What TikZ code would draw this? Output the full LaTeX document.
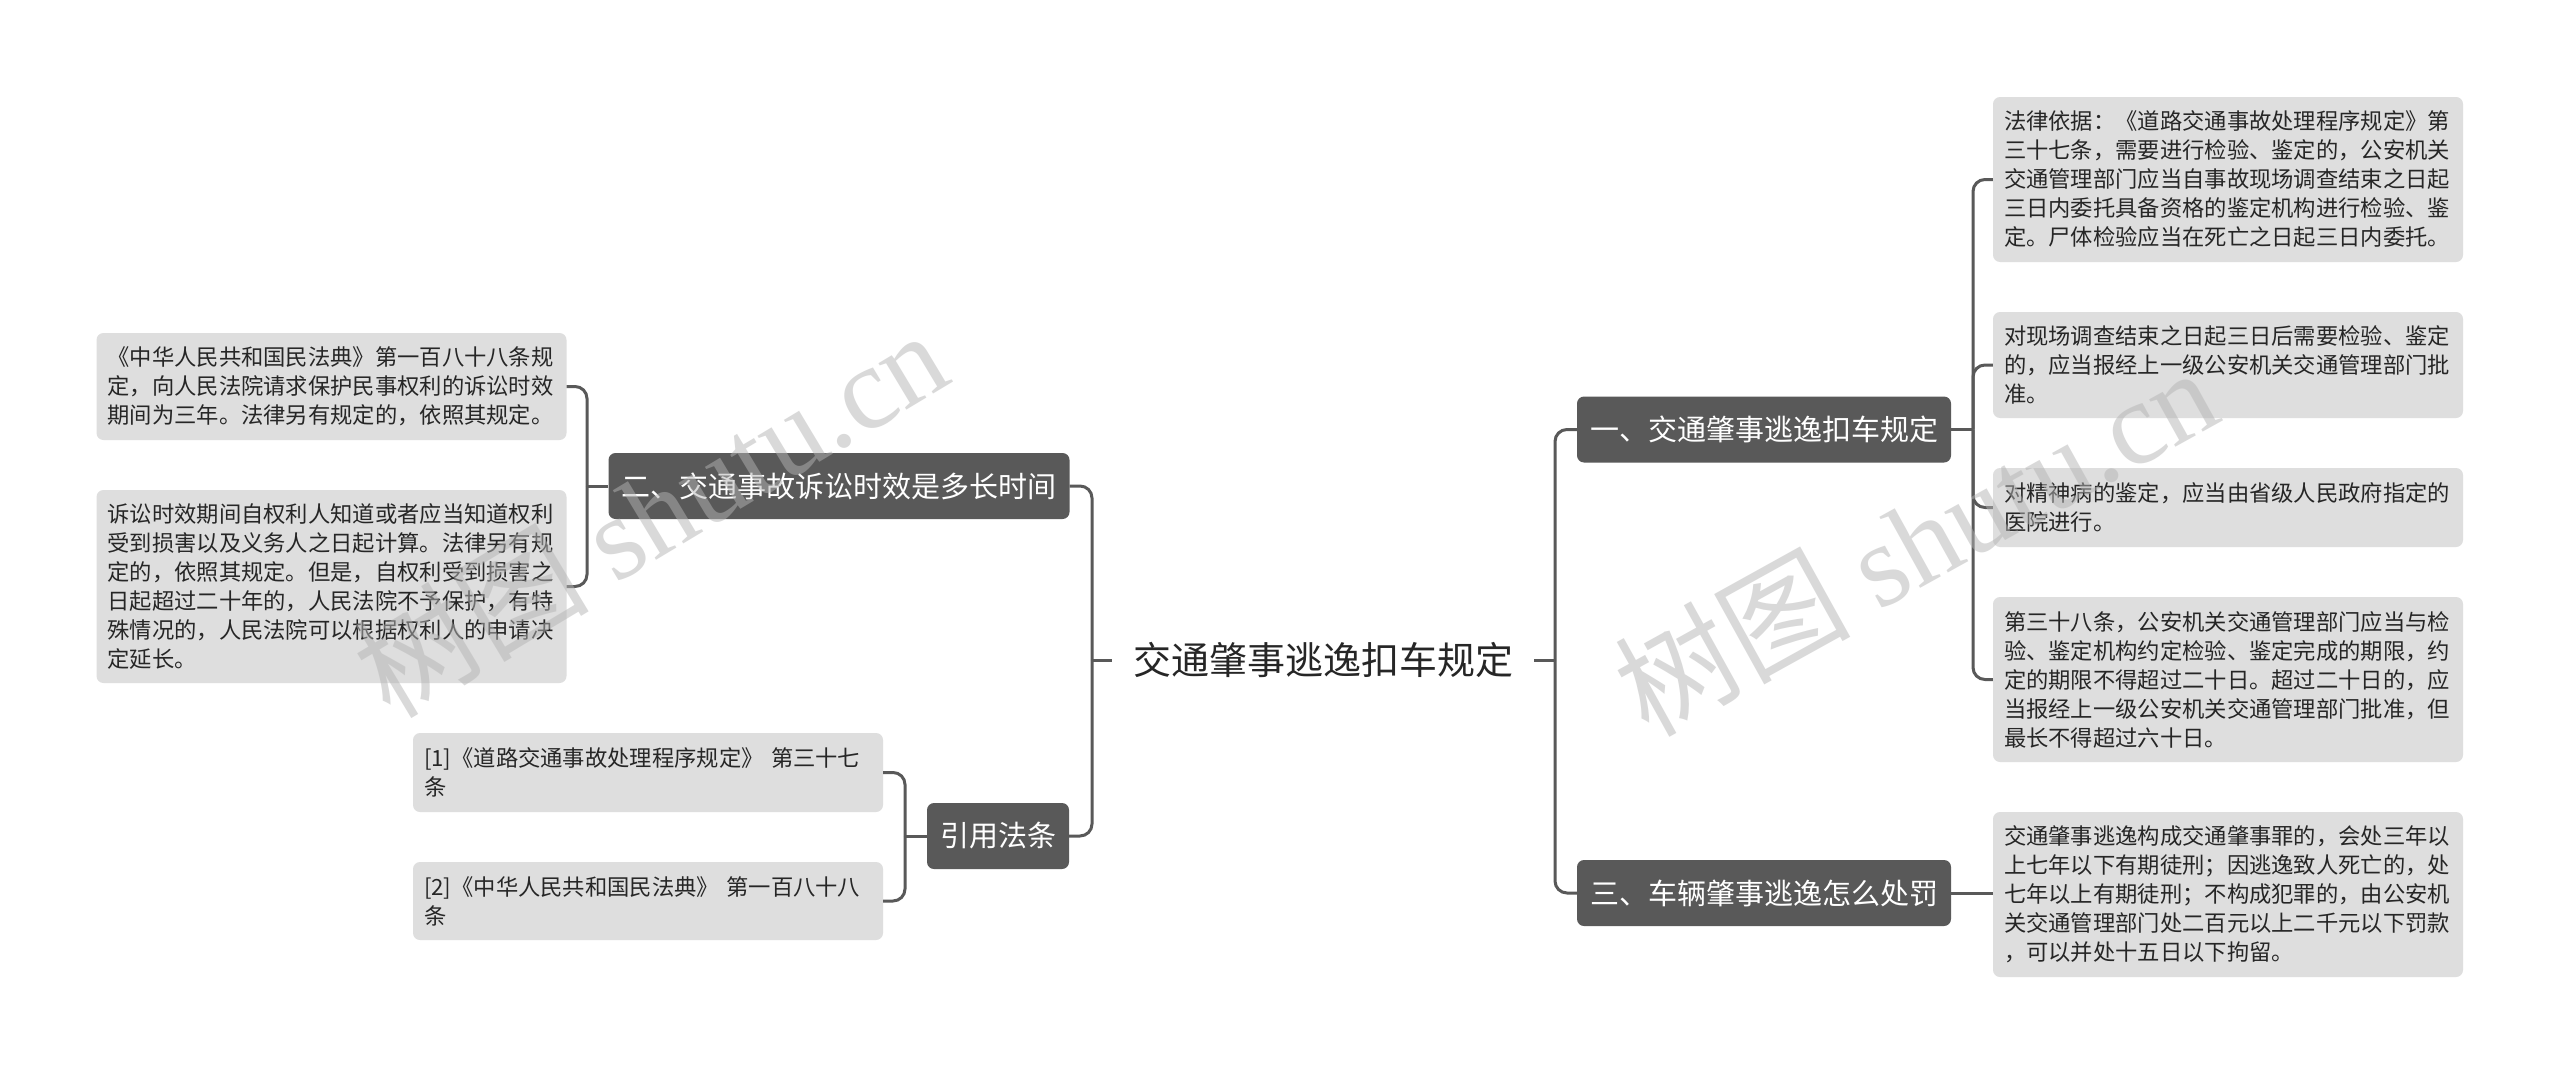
\documentclass[tikz,border=0pt]{standalone}
\usepackage{fontspec}
\setmainfont{Noto Sans CJK SC}
\newfontfamily\wmserif{Liberation Serif}
\definecolor{leafc}{HTML}{DEDEDE}
\definecolor{branchc}{HTML}{595959}
\definecolor{connc}{HTML}{595959}
\definecolor{txtc}{HTML}{262626}
\definecolor{wmc}{HTML}{B4B4B4}
\begin{document}
\begin{tikzpicture}[x=1pt,y=-1pt]
\tikzset{
  leaf/.style={fill=leafc, rounded corners=7pt, text width=448pt, inner xsep=11pt, inner ysep=0pt,
    align=left, text=txtc, font=\fontsize{22.3}{29}\selectfont},
  branch/.style={fill=branchc, rounded corners=7pt, text=white, minimum height=66pt, inner xsep=13pt,
    font=\fontsize{29}{34}\selectfont},
  rootnode/.style={inner xsep=21pt, text=txtc, font=\fontsize{38}{44}\selectfont},
  conn/.style={draw=connc, line width=3pt, rounded corners=12pt},
  wm/.style={text=wmc, text opacity=0.5, font=\fontsize{118}{130}\selectfont}
}
\useasboundingbox[fill=white] (0,0) rectangle (2560,1073);

% root and branches
\node[rootnode] (root) at (1323,660) {交通肇事逃逸扣车规定};
\node[branch, minimum width=374pt] (b1) at (1764,429.5) {一、交通肇事逃逸扣车规定};
\node[branch, minimum width=374pt] (b3) at (1764,893) {三、车辆肇事逃逸怎么处罚};
\node[branch, minimum width=460pt] (b2) at (839,486) {二、交通事故诉讼时效是多长时间};
\node[branch, minimum width=142pt] (b4) at (998,836) {引用法条};

% right leaves
\node[leaf, minimum height=165pt] (r1) at (2228,179.5) {法律依据：《道路交通事故处理程序规定》第\\三十七条，需要进行检验、鉴定的，公安机关\\交通管理部门应当自事故现场调查结束之日起\\三日内委托具备资格的鉴定机构进行检验、鉴\\定。尸体检验应当在死亡之日起三日内委托。};
\node[leaf, minimum height=106pt] (r2) at (2228,365) {对现场调查结束之日起三日后需要检验、鉴定\\的，应当报经上一级公安机关交通管理部门批\\准。};
\node[leaf, minimum height=79pt] (r3) at (2228,507.5) {对精神病的鉴定，应当由省级人民政府指定的\\医院进行。};
\node[leaf, minimum height=165pt] (r4) at (2228,679.5) {第三十八条，公安机关交通管理部门应当与检\\验、鉴定机构约定检验、鉴定完成的期限，约\\定的期限不得超过二十日。超过二十日的，应\\当报经上一级公安机关交通管理部门批准，但\\最长不得超过六十日。};
\node[leaf, minimum height=165pt] (r5) at (2228,894.5) {交通肇事逃逸构成交通肇事罪的，会处三年以\\上七年以下有期徒刑；因逃逸致人死亡的，处\\七年以上有期徒刑；不构成犯罪的，由公安机\\关交通管理部门处二百元以上二千元以下罚款\\，可以并处十五日以下拘留。};

% left leaves
\node[leaf, minimum height=107pt] (l1) at (331.5,386.5) {《中华人民共和国民法典》第一百八十八条规\\定，向人民法院请求保护民事权利的诉讼时效\\期间为三年。法律另有规定的，依照其规定。};
\node[leaf, minimum height=193pt] (l2) at (331.5,586.5) {诉讼时效期间自权利人知道或者应当知道权利\\受到损害以及义务人之日起计算。法律另有规\\定的，依照其规定。但是，自权利受到损害之\\日起超过二十年的，人民法院不予保护，有特\\殊情况的，人民法院可以根据权利人的申请决\\定延长。};

% citations
\node[leaf, minimum height=79pt] (c1) at (648,772.5) {[1]《道路交通事故处理程序规定》 第三十七\\条};
\node[leaf, minimum height=78pt] (c2) at (648,901) {[2]《中华人民共和国民法典》 第一百八十八\\条};

% junctions
\coordinate (jR) at (1555,660);
\coordinate (jL) at (1092,660);
\coordinate (j1) at (1973,429.5);
\coordinate (j2) at (587,486);
\coordinate (j4) at (905,836);

% connectors
\draw[conn] (root.east) -- (jR);
\draw[conn] (jR) |- (b1.west);
\draw[conn] (jR) |- (b3.west);
\draw[conn] (root.west) -- (jL);
\draw[conn] (jL) |- (b2.east);
\draw[conn] (jL) |- (b4.east);
\draw[conn] (b1.east) -- (j1);
\draw[conn] (j1) |- (r1.west);
\draw[conn] (j1) |- (r2.west);
\draw[conn] (j1) |- (r3.west);
\draw[conn] (j1) |- (r4.west);
\draw[conn] (b3.east) -- (b3.east -| r5.west);
\draw[conn] (b2.west) -- (j2);
\draw[conn] (j2) |- (l1.east);
\draw[conn] (j2) |- (l2.east);
\draw[conn] (b4.west) -- (j4);
\draw[conn] (j4) |- (c1.east);
\draw[conn] (j4) |- (c2.east);

% watermarks
\node[wm, rotate=31] (wm1) at (650,512) {树图 {\wmserif shutu.cn}};
\node[wm, rotate=29] (wm2) at (1915,540) {树图 {\wmserif shutu.cn}};
\end{tikzpicture}
\end{document}
